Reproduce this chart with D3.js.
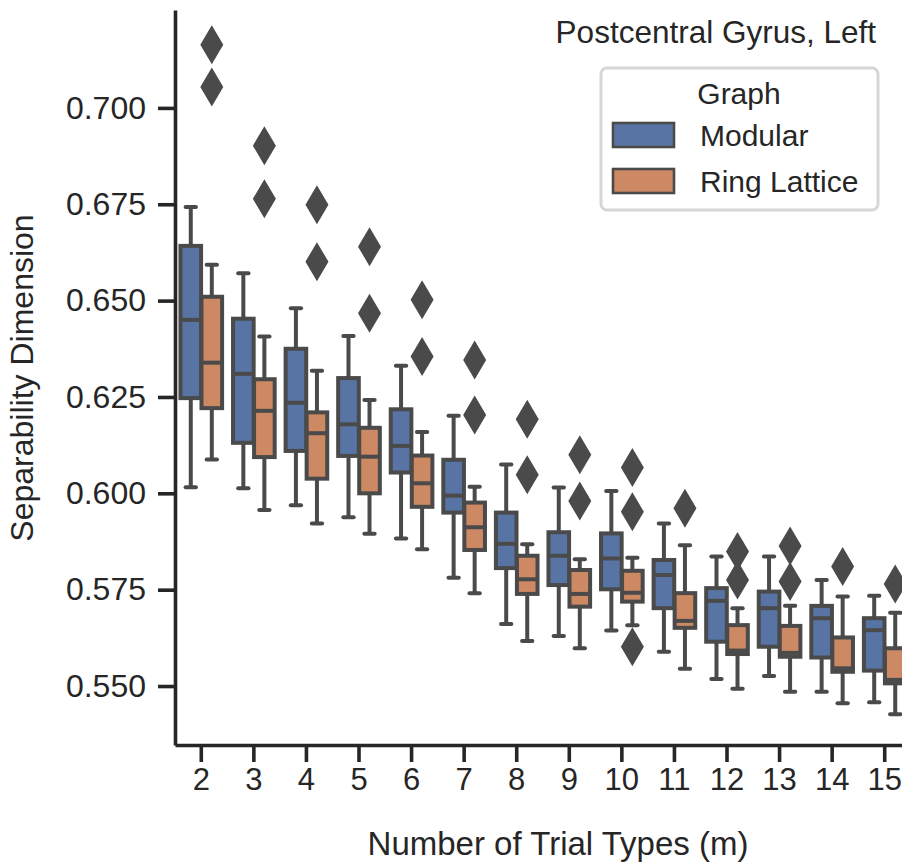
<!DOCTYPE html>
<html>
<head>
<meta charset="utf-8">
<script src="https://cdn.jsdelivr.net/npm/d3@7"></script>
<style>
  body { margin: 0; background: #fff; }
  svg { display: block; font-family: "Liberation Sans", Arial, sans-serif; }
</style>
</head>
<body>
<svg id="chart" width="902" height="863"></svg>
<script>
// categories on the x axis
const trialTypes = ["2", "3", "4", "5", "6", "7", "8", "9", "10", "11", "12", "13", "14", "15"];
const yTicks = [0.550, 0.575, 0.600, 0.625, 0.650, 0.675, 0.700];

// Modular: box statistics per category
const modularLow    = [0.6016, 0.6013, 0.5969, 0.5938, 0.5883, 0.5781, 0.5661, 0.5630, 0.5644, 0.5589, 0.5518, 0.5526, 0.5485, 0.5458];
const modularQ1     = [0.6247, 0.6131, 0.6110, 0.6097, 0.6054, 0.5950, 0.5806, 0.5762, 0.5751, 0.5702, 0.5615, 0.5602, 0.5574, 0.5540];
const modularMedian = [0.6450, 0.6310, 0.6235, 0.6179, 0.6123, 0.5994, 0.5869, 0.5838, 0.5831, 0.5788, 0.5721, 0.5702, 0.5676, 0.5645];
const modularQ3     = [0.6642, 0.6453, 0.6375, 0.6299, 0.6218, 0.6087, 0.5950, 0.5899, 0.5896, 0.5827, 0.5754, 0.5745, 0.5708, 0.5676];
const modularHigh   = [0.6743, 0.6571, 0.6480, 0.6408, 0.6331, 0.6201, 0.6075, 0.6015, 0.6006, 0.5922, 0.5836, 0.5836, 0.5775, 0.5734];
const modularOutliers = [];

// Ring Lattice: box statistics per category
const ringLow    = [0.6088, 0.5957, 0.5922, 0.5895, 0.5855, 0.5741, 0.5617, 0.5598, 0.5658, 0.5545, 0.5493, 0.5485, 0.5455, 0.5427];
const ringQ1     = [0.6221, 0.6094, 0.6038, 0.6000, 0.5965, 0.5853, 0.5739, 0.5706, 0.5719, 0.5651, 0.5583, 0.5576, 0.5537, 0.5507];
const ringMedian = [0.6339, 0.6214, 0.6156, 0.6095, 0.6026, 0.5912, 0.5777, 0.5739, 0.5742, 0.5669, 0.5592, 0.5586, 0.5546, 0.5516];
const ringQ3     = [0.6510, 0.6296, 0.6210, 0.6170, 0.6098, 0.5976, 0.5838, 0.5801, 0.5799, 0.5741, 0.5658, 0.5656, 0.5626, 0.5598];
const ringHigh   = [0.6593, 0.6407, 0.6318, 0.6242, 0.6159, 0.6017, 0.5868, 0.5829, 0.5833, 0.5865, 0.5702, 0.5708, 0.5732, 0.5690];
const ringOutliers = [
  ["2", 0.7054], ["2", 0.7164], ["3", 0.6764], ["3", 0.6902], ["4", 0.6601], ["4", 0.6749],
  ["5", 0.6467], ["5", 0.6640], ["6", 0.6355], ["6", 0.6502], ["7", 0.6203], ["7", 0.6346],
  ["8", 0.6048], ["8", 0.6192], ["9", 0.5980], ["9", 0.6100], ["10", 0.5602], ["10", 0.5952],
  ["10", 0.6067], ["11", 0.5961], ["12", 0.5775], ["12", 0.5849], ["13", 0.5771], ["13", 0.5863],
  ["14", 0.5810], ["15", 0.5765]
];

const graphs = ["Modular", "Ring Lattice"];
const colors = ["#5874a4", "#cd8963"];
const lineColor = "#4a4a4a";
const textColor = "#262626";

const svg = d3.select("#chart");

// plot area
const plotLeft = 175, plotRight = 911, plotTop = 10, plotBottom = 745;

const x = d3.scaleBand()
  .domain(trialTypes)
  .range([plotLeft, plotRight])
  .padding(0);

const hue = d3.scaleBand()
  .domain(graphs)
  .range([0.1 * x.bandwidth(), 0.9 * x.bandwidth()]);

const y = d3.scaleLinear()
  .domain([0.5347, 0.7254])
  .range([plotBottom, plotTop]);

const color = d3.scaleOrdinal().domain(graphs).range(colors);

// build box rows from the arrays
function rows(graph, lo, q1, med, q3, hi) {
  return trialTypes.map((t, i) => ({ t, graph, lo: lo[i], q1: q1[i], med: med[i], q3: q3[i], hi: hi[i] }));
}
const boxes = rows("Modular", modularLow, modularQ1, modularMedian, modularQ3, modularHigh)
  .concat(rows("Ring Lattice", ringLow, ringQ1, ringMedian, ringQ3, ringHigh));
const outliers = modularOutliers.map(d => ({ t: d[0], v: d[1], graph: "Modular" }))
  .concat(ringOutliers.map(d => ({ t: d[0], v: d[1], graph: "Ring Lattice" })));

const boxW = hue.bandwidth() * 0.98;
const cx = d => x(d.t) + hue(d.graph) + hue.bandwidth() / 2;

const g = svg.append("g");

// whiskers
const lw = 4;
g.selectAll(".whisker")
  .data(boxes.flatMap(d => [{ d, a: d.q1, b: d.lo }, { d, a: d.q3, b: d.hi }]))
  .join("line")
  .attr("x1", w => cx(w.d)).attr("x2", w => cx(w.d))
  .attr("y1", w => y(w.a)).attr("y2", w => y(w.b))
  .attr("stroke", lineColor).attr("stroke-width", lw);

g.selectAll(".cap")
  .data(boxes.flatMap(d => [{ d, v: d.lo }, { d, v: d.hi }]))
  .join("line")
  .attr("x1", c => cx(c.d) - boxW / 4).attr("x2", c => cx(c.d) + boxW / 4)
  .attr("y1", c => y(c.v)).attr("y2", c => y(c.v))
  .attr("stroke", lineColor).attr("stroke-width", lw)
  .attr("stroke-linecap", "round");

// boxes
g.selectAll(".box")
  .data(boxes)
  .join("rect")
  .attr("x", d => cx(d) - boxW / 2)
  .attr("width", boxW)
  .attr("y", d => y(d.q3))
  .attr("height", d => y(d.q1) - y(d.q3))
  .attr("fill", d => color(d.graph))
  .attr("stroke", lineColor).attr("stroke-width", lw);

// medians
g.selectAll(".median")
  .data(boxes)
  .join("line")
  .attr("x1", d => cx(d) - boxW / 2).attr("x2", d => cx(d) + boxW / 2)
  .attr("y1", d => y(d.med)).attr("y2", d => y(d.med))
  .attr("stroke", lineColor).attr("stroke-width", lw);

// outliers (thin diamonds)
const dw = 11.5, dh = 19.5;
g.selectAll(".flier")
  .data(outliers)
  .join("path")
  .attr("transform", d => `translate(${cx(d)},${y(d.v)})`)
  .attr("d", `M0,${-dh}L${dw},0L0,${dh}L${-dw},0Z`)
  .attr("fill", lineColor);

// axes
const yAxis = svg.append("g")
  .attr("transform", `translate(${plotLeft},0)`)
  .call(d3.axisLeft(y).tickValues(yTicks).tickFormat(d3.format(".3f")).tickSize(17).tickPadding(12).tickSizeOuter(0));

const xAxis = svg.append("g")
  .attr("transform", `translate(0,${plotBottom})`)
  .call(d3.axisBottom(x).tickSize(17).tickPadding(6).tickSizeOuter(0));

[yAxis, xAxis].forEach(a => {
  a.select(".domain").attr("stroke", textColor).attr("stroke-width", 3.6);
  a.selectAll(".tick line").attr("stroke", textColor).attr("stroke-width", 3.6);
  a.selectAll(".tick text").attr("fill", textColor).style("font-size", "31px")
    .style("font-family", "'Liberation Sans', Arial, sans-serif");
});
yAxis.selectAll(".tick text").style("font-size", "32px");

// axis labels
svg.append("text")
  .attr("x", 558)
  .attr("y", 855)
  .attr("text-anchor", "middle")
  .attr("fill", textColor)
  .style("font-size", "33px")
  .text("Number of Trial Types (m)");

svg.append("text")
  .attr("transform", `translate(33,378) rotate(-90)`)
  .attr("text-anchor", "middle")
  .attr("fill", textColor)
  .style("font-size", "32px")
  .text("Separability Dimension");

// title
svg.append("text")
  .attr("x", 876)
  .attr("y", 43)
  .attr("text-anchor", "end")
  .attr("fill", textColor)
  .style("font-size", "31.5px")
  .text("Postcentral Gyrus, Left");

// legend
const legend = svg.append("g");
legend.append("rect")
  .attr("x", 601).attr("y", 68).attr("width", 277).attr("height", 142)
  .attr("rx", 6)
  .attr("fill", "#fff").attr("fill-opacity", 0.8)
  .attr("stroke", "#d6d6d6").attr("stroke-width", 3);

legend.append("text")
  .attr("x", 739).attr("y", 104)
  .attr("text-anchor", "middle")
  .attr("fill", textColor)
  .style("font-size", "30px")
  .text("Graph");

const items = legend.selectAll(".item")
  .data(graphs)
  .join("g")
  .attr("transform", (d, i) => `translate(0,${i * 46})`);

items.append("rect")
  .attr("x", 613).attr("y", 123).attr("width", 61).attr("height", 24)
  .attr("fill", d => color(d))
  .attr("stroke", lineColor).attr("stroke-width", 2.6);

items.append("text")
  .attr("x", 700).attr("y", 146)
  .attr("fill", textColor)
  .style("font-size", "30px")
  .text(d => d);
</script>
</body>
</html>
